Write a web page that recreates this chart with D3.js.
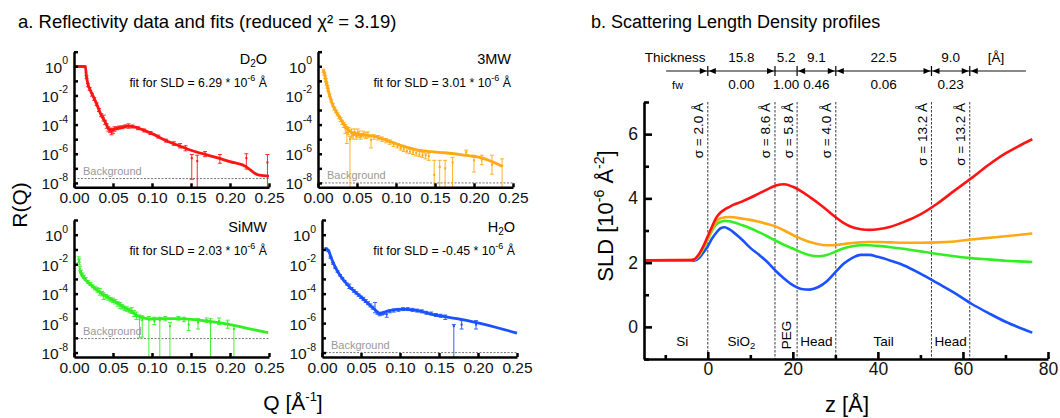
<!DOCTYPE html>
<html><head><meta charset="utf-8">
<script src="https://cdn.jsdelivr.net/npm/d3@7"></script>
<style>
body{margin:0;background:#fff;}
svg{font-family:"Liberation Sans",Arial,sans-serif;}
</style></head><body>
<svg id="c" width="1060" height="418"></svg>
<script>
// ---------------- DATA ----------------
const qTicks = [0, 0.05, 0.10, 0.15, 0.20, 0.25];
const decadeTicks = [-8, -7, -6, -5, -4, -3, -2, -1, 0, 1];
const decadeLabels = [-8, -6, -4, -2, 0];
const colors = ["#ff1414", "#ffaa14", "#33ee22", "#1a52ff"];
const sampleNames = [["D", "2", "O"], ["3MW", "", ""], ["SiMW", "", ""], ["H", "2", "O"]];
const sldFitValues = ["6.29", "3.01", "2.03", "-0.45"];
const backgroundLog = [-7.7, -8.0, -7.05, -8.0];

// fits: [Q, log10 R]
const d2oFit = [[0.002,0],[0.008,0],[0.0145,-0.05],[0.016,-0.7],[0.018,-1.25],[0.021,-1.65],[0.027,-2.33],[0.035,-3.36],[0.040,-3.82],[0.044,-4.25],[0.048,-4.38],[0.054,-4.27],[0.060,-4.2],[0.069,-4.11],[0.077,-4.16],[0.0875,-4.34],[0.10,-4.62],[0.117,-5.07],[0.133,-5.42],[0.15,-5.76],[0.167,-6.03],[0.183,-6.26],[0.2,-6.54],[0.221,-6.9],[0.231,-7.31],[0.2375,-7.47],[0.25,-7.54]];
const mw3Fit = [[0.007,-0.25],[0.008,-0.45],[0.010,-0.92],[0.014,-1.84],[0.018,-2.53],[0.0246,-3.22],[0.031,-3.79],[0.037,-4.25],[0.043,-4.55],[0.050,-4.67],[0.060,-4.71],[0.070,-4.78],[0.083,-4.99],[0.095,-5.22],[0.112,-5.52],[0.129,-5.75],[0.145,-5.86],[0.162,-5.93],[0.187,-6.09],[0.212,-6.32],[0.236,-6.85]];
const simwFit = [[0.008,-2.45],[0.0095,-2.7],[0.013,-2.97],[0.022,-3.42],[0.032,-3.87],[0.0425,-4.21],[0.053,-4.55],[0.063,-4.89],[0.074,-5.23],[0.082,-5.52],[0.088,-5.63],[0.097,-5.72],[0.113,-5.70],[0.134,-5.70],[0.151,-5.74],[0.172,-5.86],[0.197,-6.06],[0.222,-6.35],[0.249,-6.65]];
const h2oFit = [[0.004,-0.92],[0.008,-1.05],[0.012,-1.6],[0.0175,-2.25],[0.026,-2.97],[0.034,-3.47],[0.0425,-3.89],[0.051,-4.27],[0.059,-4.66],[0.0675,-5.07],[0.074,-5.35],[0.078,-5.30],[0.084,-5.19],[0.097,-5.07],[0.109,-5.07],[0.126,-5.19],[0.1425,-5.42],[0.159,-5.58],[0.18,-5.76],[0.2,-5.99],[0.226,-6.33],[0.25,-6.68]];

// data: [Q, log10 R, log10 low, log10 high]
const d2oData = [[0.004,0,-0.04,0.04],[0.006,0,-0.04,0.04],[0.008,0,-0.04,0.04],[0.010,-0.01,-0.05,0.03],[0.012,0,-0.04,0.04],[0.014,-0.02,-0.06,0.02],[0.016,-0.75,-0.85,-0.65],[0.018,-1.3,-1.4,-1.2],[0.020,-1.55,-1.65,-1.45],[0.023,-1.95,-2.05,-1.85],[0.026,-2.25,-2.35,-2.15],[0.029,-2.6,-2.7,-2.5],[0.032,-3.0,-3.1,-2.9],[0.035,-3.35,-3.45,-3.25],[0.038,-3.55,-3.75,-3.35],[0.040,-3.85,-4.0,-3.7],[0.042,-4.1,-4.25,-3.95],[0.044,-4.3,-4.45,-4.15],[0.046,-4.4,-4.55,-4.25],[0.048,-4.5,-4.7,-4.3],[0.050,-4.4,-4.6,-4.25],[0.052,-4.3,-4.45,-4.15],[0.055,-4.25,-4.35,-4.15],[0.058,-4.2,-4.3,-4.1],[0.062,-4.18,-4.28,-4.08],[0.066,-4.12,-4.22,-4.02],[0.070,-4.1,-4.25,-3.95],[0.075,-4.13,-4.23,-4.03],[0.082,-4.25,-4.35,-4.15],[0.090,-4.4,-4.5,-4.3],[0.098,-4.58,-4.68,-4.48],[0.108,-4.82,-4.92,-4.72],[0.118,-5.1,-5.2,-5.0],[0.128,-5.3,-5.42,-5.18],[0.136,-5.45,-5.6,-5.3],[0.143,-5.62,-5.8,-5.45],[0.151,-6.3,-7.75,-6.05],[0.158,-6.5,-9,-6.1],[0.168,-6.0,-6.2,-5.85],[0.187,-6.3,-6.65,-6.05],[0.221,-6.3,-7.05,-6.0],[0.248,-6.6,-9,-6.05]];
const mw3Data = [[0.007,-0.3,-0.4,-0.2],[0.008,-0.5,-0.6,-0.4],[0.009,-0.75,-0.85,-0.65],[0.010,-0.95,-1.05,-0.85],[0.011,-1.2,-1.3,-1.1],[0.012,-1.4,-1.5,-1.3],[0.013,-1.6,-1.7,-1.5],[0.015,-2.0,-2.1,-1.9],[0.017,-2.35,-2.45,-2.25],[0.019,-2.65,-2.75,-2.55],[0.021,-2.9,-3.0,-2.8],[0.023,-3.1,-3.2,-3.0],[0.025,-3.3,-3.4,-3.2],[0.027,-3.5,-3.6,-3.4],[0.029,-3.65,-3.8,-3.5],[0.031,-3.85,-4.0,-3.7],[0.033,-4.0,-4.2,-3.85],[0.035,-4.25,-4.6,-4.0],[0.037,-4.55,-5.3,-4.15],[0.039,-4.4,-4.7,-4.2],[0.041,-5.0,-9,-4.8],[0.043,-4.55,-4.9,-4.3],[0.045,-4.75,-5.0,-4.5],[0.047,-4.5,-4.75,-4.3],[0.049,-4.8,-5.0,-4.55],[0.051,-4.55,-4.85,-4.3],[0.053,-4.65,-4.9,-4.45],[0.055,-4.8,-5.0,-4.6],[0.058,-4.65,-4.85,-4.45],[0.061,-4.75,-4.95,-4.55],[0.064,-4.7,-4.9,-4.5],[0.068,-5.05,-5.6,-4.75],[0.072,-4.85,-5.0,-4.7],[0.077,-4.9,-5.05,-4.75],[0.082,-5.0,-5.15,-4.85],[0.087,-5.1,-5.25,-4.95],[0.092,-5.2,-5.35,-5.05],[0.097,-5.35,-5.5,-5.2],[0.102,-5.45,-5.6,-5.3],[0.106,-5.6,-5.75,-5.45],[0.110,-5.7,-5.85,-5.55],[0.114,-5.8,-5.95,-5.6],[0.118,-5.85,-6.0,-5.7],[0.122,-5.9,-6.05,-5.75],[0.126,-5.95,-6.15,-5.8],[0.130,-6.05,-6.2,-5.85],[0.134,-6.1,-6.25,-5.9],[0.138,-6.1,-6.35,-5.95],[0.142,-6.15,-6.45,-5.95],[0.149,-7.45,-9,-6.45],[0.156,-6.9,-9,-6.45],[0.163,-7.0,-9,-6.45],[0.1725,-6.6,-9,-6.25],[0.190,-5.9,-6.05,-5.75],[0.200,-6.45,-7.25,-6.1],[0.210,-6.4,-6.75,-6.1],[0.223,-6.75,-7.4,-6.1],[0.236,-6.85,-9,-6.35]];
const simwData = [[0.006,-1.7,-1.9,-1.5],[0.007,-1.85,-2.05,-1.65],[0.0075,-2.3,-2.45,-2.15],[0.009,-2.5,-2.6,-2.4],[0.011,-2.7,-2.8,-2.6],[0.013,-2.85,-2.95,-2.75],[0.015,-3.0,-3.1,-2.9],[0.018,-3.2,-3.3,-3.1],[0.021,-3.35,-3.45,-3.25],[0.024,-3.5,-3.6,-3.4],[0.027,-3.62,-3.75,-3.5],[0.030,-3.75,-3.9,-3.6],[0.033,-3.85,-4.1,-3.65],[0.036,-4.0,-4.15,-3.85],[0.038,-4.15,-4.4,-3.95],[0.041,-4.2,-4.35,-4.05],[0.044,-4.3,-4.45,-4.15],[0.047,-4.4,-4.55,-4.25],[0.050,-4.45,-4.6,-4.3],[0.053,-4.55,-4.7,-4.4],[0.056,-4.7,-4.85,-4.55],[0.059,-4.8,-5.0,-4.6],[0.062,-4.9,-5.05,-4.75],[0.065,-5.0,-5.15,-4.85],[0.068,-5.05,-5.2,-4.9],[0.071,-5.15,-5.3,-5.0],[0.074,-5.15,-5.35,-4.95],[0.077,-5.35,-5.55,-5.15],[0.080,-5.5,-5.75,-5.25],[0.084,-5.75,-7.0,-5.45],[0.0875,-5.8,-6.95,-5.5],[0.096,-5.75,-9,-5.55],[0.103,-5.85,-6.1,-5.6],[0.110,-5.8,-9,-5.6],[0.117,-5.7,-5.85,-5.55],[0.123,-6.2,-9,-5.95],[0.134,-5.68,-5.8,-5.55],[0.141,-5.75,-5.9,-5.6],[0.147,-6.1,-6.5,-5.75],[0.159,-5.95,-6.4,-5.7],[0.170,-5.8,-5.95,-5.65],[0.175,-6.0,-9,-5.7],[0.186,-5.85,-6.1,-5.65],[0.197,-6.05,-6.35,-5.8],[0.205,-6.4,-9,-6.15]];
const h2oData = [[0.005,-0.95,-1.0,-0.9],[0.008,-1.1,-1.15,-1.05],[0.011,-1.55,-1.6,-1.5],[0.014,-1.95,-2.0,-1.9],[0.017,-2.25,-2.3,-2.2],[0.020,-2.5,-2.55,-2.45],[0.023,-2.75,-2.8,-2.7],[0.026,-2.95,-3.0,-2.9],[0.029,-3.15,-3.2,-3.1],[0.032,-3.35,-3.42,-3.28],[0.035,-3.5,-3.65,-3.35],[0.038,-3.65,-3.72,-3.58],[0.041,-3.82,-3.9,-3.74],[0.044,-3.95,-4.03,-3.87],[0.047,-4.1,-4.18,-4.02],[0.050,-4.25,-4.33,-4.17],[0.053,-4.35,-4.45,-4.25],[0.056,-4.5,-4.6,-4.4],[0.059,-4.65,-4.75,-4.55],[0.062,-4.8,-4.9,-4.7],[0.065,-4.95,-5.05,-4.85],[0.068,-5.1,-5.3,-4.6],[0.071,-5.3,-5.4,-5.2],[0.074,-5.4,-5.5,-5.3],[0.077,-5.35,-5.45,-5.25],[0.080,-5.3,-5.4,-5.2],[0.083,-5.4,-5.6,-5.2],[0.087,-5.2,-5.3,-5.1],[0.092,-5.15,-5.25,-5.05],[0.098,-5.1,-5.2,-5.0],[0.104,-5.05,-5.15,-4.95],[0.110,-5.05,-5.15,-4.95],[0.116,-5.1,-5.2,-5.0],[0.122,-5.15,-5.25,-5.05],[0.128,-5.2,-5.3,-5.1],[0.134,-5.3,-5.4,-5.2],[0.140,-5.35,-5.45,-5.25],[0.146,-5.45,-5.55,-5.35],[0.152,-5.5,-5.6,-5.4],[0.158,-5.58,-5.75,-5.45],[0.169,-6.2,-9,-6.1],[0.179,-6.1,-6.4,-5.83],[0.1975,-6.1,-6.4,-5.83]];

// SLD profiles
const zValues = [-15,-4,-3,-2,-1,0,1,2,3,4,5,6,8,10,12,14,16,18,20,22,24,26,28,30,32,34,36,38,40,43,46,50,54,58,62,66,70,73,76.3];
const sldRed =    [2.07,2.08,2.12,2.28,2.52,2.82,3.12,3.40,3.56,3.66,3.73,3.80,3.90,4.02,4.15,4.28,4.40,4.44,4.36,4.22,4.04,3.85,3.64,3.42,3.23,3.10,3.04,3.02,3.04,3.12,3.26,3.50,3.84,4.24,4.63,5.04,5.40,5.62,5.84];
const sldOrange = [2.07,2.08,2.11,2.25,2.48,2.76,3.05,3.28,3.38,3.41,3.42,3.41,3.37,3.33,3.27,3.20,3.12,3.00,2.86,2.74,2.64,2.57,2.54,2.55,2.58,2.61,2.63,2.64,2.64,2.63,2.62,2.62,2.63,2.66,2.72,2.77,2.82,2.86,2.91];
const sldGreen =  [2.07,2.07,2.10,2.22,2.45,2.72,3.00,3.19,3.27,3.30,3.29,3.26,3.17,3.07,2.95,2.82,2.68,2.55,2.44,2.32,2.23,2.20,2.24,2.34,2.45,2.51,2.54,2.54,2.52,2.48,2.43,2.35,2.27,2.20,2.14,2.10,2.06,2.04,2.02];
const sldBlue =   [2.07,2.06,2.07,2.15,2.32,2.51,2.75,2.93,3.07,3.10,3.04,2.95,2.72,2.46,2.25,2.02,1.74,1.50,1.30,1.18,1.16,1.24,1.42,1.70,1.97,2.15,2.24,2.24,2.18,2.06,1.92,1.66,1.36,1.06,0.72,0.43,0.16,-0.01,-0.18];
const zTicks = [-10,0,10,20,30,40,50,60,70,80];
const sldTicks = [-1,0,1,2,3,4,5,6,7];
const interfaces = [0, 15.8, 21.0, 30.1, 52.6, 61.6];
const thicknessLabels = ["15.8","5.2","9.1","22.5","9.0"];
const fwLabels = ["0.00","1.00","0.46","0.06","0.23"];
const sigmaLabels = ["2.0","8.6","5.8","4.0","13.2","13.2"];
const layerNames = ["Si","SiO","PEG","Head","Tail","Head"];

// ---------------- DRAW ----------------
const svg = d3.select("#c");

svg.append("text").attr("x", 18).attr("y", 28).attr("font-size", 18.5)
  .text("a. Reflectivity data and fits (reduced \u03C7\u00B2 = 3.19)");
svg.append("text").attr("x", 591).attr("y", 28).attr("font-size", 18)
  .text("b. Scattering Length Density profiles");

const layout = [
  {left: 74, top: 51.7, bottom: 187.3},
  {left: 318, top: 51.7, bottom: 187.3},
  {left: 74, top: 220, bottom: 357},
  {left: 322, top: 220, bottom: 357}
];
const fits = [d2oFit, mw3Fit, simwFit, h2oFit];
const datas = [d2oData, mw3Data, simwData, h2oData];

layout.forEach((L, i) => {
  const x = d3.scaleLinear().domain([0, 0.25]).range([L.left, L.left + 195]);
  const y = d3.scaleLinear().domain([-8.3, 1]).range([L.bottom, L.top]);
  const col = colors[i];
  const g = svg.append("g");
  const ymin = -8.3;

  // background
  g.append("line").attr("x1", x(0)).attr("x2", x(0.25))
    .attr("y1", y(backgroundLog[i])).attr("y2", y(backgroundLog[i]))
    .attr("stroke", "#666").attr("stroke-width", 0.9).attr("stroke-dasharray", "2,1.5");
  g.append("text").attr("x", x(0) + 9).attr("y", y(backgroundLog[i]) - 4)
    .attr("font-size", 11).attr("fill", "#999").text("Background");

  // error bars + points
  const eb = g.append("g").attr("stroke", col).attr("stroke-width", 1).attr("opacity", 0.9);
  datas[i].forEach(d => {
    const lo = Math.max(d[2], ymin);
    eb.append("line").attr("x1", x(d[0])).attr("x2", x(d[0])).attr("y1", y(lo)).attr("y2", y(d[3]));
    eb.append("line").attr("x1", x(d[0]) - 2).attr("x2", x(d[0]) + 2).attr("y1", y(d[3])).attr("y2", y(d[3]));
    if (d[2] > ymin) eb.append("line").attr("x1", x(d[0]) - 2).attr("x2", x(d[0]) + 2).attr("y1", y(lo)).attr("y2", y(lo));
    g.append("rect").attr("x", x(d[0]) - 1).attr("y", y(d[1]) - 1).attr("width", 2).attr("height", 2).attr("fill", col);
  });

  // fit
  g.append("path").datum(fits[i])
    .attr("d", d3.line().x(d => x(d[0])).y(d => y(d[1])).curve(d3.curveMonotoneX))
    .attr("fill", "none").attr("stroke", col).attr("stroke-width", 2.8).attr("stroke-linejoin", "round");

  // axes
  const ax = g.append("g").attr("transform", `translate(${L.left},0)`)
    .call(d3.axisLeft(y).tickValues(decadeTicks).tickSize(-4).tickSizeOuter(0).tickFormat(""));
  ax.selectAll("path,line").attr("stroke", "#000").attr("stroke-width", 2.5);
  const bx = g.append("g").attr("transform", `translate(0,${L.bottom})`)
    .call(d3.axisBottom(x).tickValues(qTicks).tickSize(-4).tickSizeOuter(0).tickFormat(d3.format(".2f")).tickPadding(5));
  bx.selectAll("path,line").attr("stroke", "#000").attr("stroke-width", 2.5);
  bx.attr("font-size", 15.5).attr("font-family", null);
  bx.selectAll("text").attr("fill", "#111");

  decadeLabels.forEach(n => {
    const t = g.append("text").attr("x", L.left - 6).attr("y", y(n) + 6.5)
      .attr("text-anchor", "end").attr("font-size", 15.5).attr("fill", "#111");
    t.append("tspan").text("10");
    t.append("tspan").attr("font-size", 10.5).attr("dy", -8.5).text(String(n));
  });

  // name and fit text
  const nm = sampleNames[i];
  const tn = g.append("text").attr("x", L.left + 193).attr("y", L.top + 12).attr("text-anchor", "end").attr("font-size", 14.5);
  tn.append("tspan").text(nm[0]);
  if (nm[1]) { tn.append("tspan").attr("font-size", 10).attr("dy", 3).text(nm[1]); tn.append("tspan").attr("dy", -3).text(nm[2]); }
  const tf = g.append("text").attr("x", L.left + 193).attr("y", L.top + 35).attr("text-anchor", "end").attr("font-size", 12.3);
  tf.append("tspan").text("fit for SLD = " + sldFitValues[i] + " * 10");
  tf.append("tspan").attr("font-size", 9).attr("dy", -6).text("-6");
  tf.append("tspan").attr("dy", 6).text(" \u00C5");
});

// axis titles panel a
svg.append("text").attr("transform", "translate(27,205) rotate(-90)").attr("text-anchor", "middle")
  .attr("font-size", 21).text("R(Q)");
const ql = svg.append("text").attr("x", 293).attr("y", 410).attr("text-anchor", "middle").attr("font-size", 21);
ql.append("tspan").text("Q [\u00C5");
ql.append("tspan").attr("font-size", 13).attr("dy", -9).text("-1");
ql.append("tspan").attr("dy", 9).text("]");

// ---------------- Panel b ----------------
const xz = d3.scaleLinear().domain([-15, 80]).range([644, 1048]);
const ys = d3.scaleLinear().domain([-1, 7]).range([359, 102]);
const gb = svg.append("g");

// dashed interfaces
interfaces.forEach((z, k) => {
  gb.append("line").attr("x1", xz(z)).attr("x2", xz(z)).attr("y1", 102).attr("y2", ys(-1))
    .attr("stroke", "#222").attr("stroke-width", 0.9).attr("stroke-dasharray", "2.5,1.5");
  gb.append("text").attr("transform", `translate(${xz(z) - 4.5},103) rotate(-90)`)
    .attr("text-anchor", "end").attr("font-size", 13.5).text("\u03C3 = " + sigmaLabels[k] + " \u00C5");
});

// profiles
const profiles = [sldBlue, sldGreen, sldOrange, sldRed];
const pcolors = [colors[3], colors[2], colors[1], colors[0]];
profiles.forEach((vals, k) => {
  gb.append("path").datum(zValues.map((z, j) => [z, vals[j]]))
    .attr("d", d3.line().x(d => xz(d[0])).y(d => ys(d[1])).curve(d3.curveMonotoneX))
    .attr("fill", "none").attr("stroke", pcolors[k]).attr("stroke-width", 2.6).attr("stroke-linejoin", "round");
});

// axes
const lax = gb.append("g").attr("transform", `translate(${xz(-15)},0)`)
  .call(d3.axisLeft(ys).tickValues(sldTicks).tickSize(-5).tickSizeOuter(0).tickPadding(6)
    .tickFormat(d => (d >= 0 && d % 2 === 0) ? d : ""));
lax.selectAll("path,line").attr("stroke", "#000").attr("stroke-width", 2.6);
lax.selectAll(".tick").filter(d => d >= 0 && d % 2 === 0).select("line").attr("x2", 8);
lax.attr("font-size", 17.5).attr("font-family", null);
lax.selectAll("text").attr("fill", "#111");

const bax = gb.append("g").attr("transform", `translate(0,${ys(-1)})`)
  .call(d3.axisBottom(xz).tickValues(zTicks).tickSize(-4).tickSizeOuter(0).tickPadding(4)
    .tickFormat(d => d % 20 === 0 ? d : ""));
bax.selectAll("path,line").attr("stroke", "#000").attr("stroke-width", 2.6);
bax.selectAll(".tick").filter(d => d % 20 === 0).select("line").attr("y2", -7);
bax.attr("font-size", 17.5).attr("font-family", null);
bax.selectAll("text").attr("fill", "#111");

// axis titles b
const sl = svg.append("text").attr("transform", "translate(613,216) rotate(-90)").attr("text-anchor", "middle").attr("font-size", 22);
sl.append("tspan").text("SLD [10");
sl.append("tspan").attr("font-size", 14).attr("dy", -9).text("-6");
sl.append("tspan").attr("dy", 9).text(" \u00C5");
sl.append("tspan").attr("font-size", 14).attr("dy", -9).text("-2");
sl.append("tspan").attr("dy", 9).text("]");
svg.append("text").attr("x", 847).attr("y", 412).attr("text-anchor", "middle").attr("font-size", 22).text("z [\u00C5]");

// layer names
const layerBounds = [-12].concat(interfaces);
layerNames.forEach((nm, k) => {
  const zc = (layerBounds[k] + layerBounds[k + 1]) / 2;
  if (nm === "PEG") {
    gb.append("text").attr("transform", `translate(${xz(zc) + 5},335) rotate(-90)`).attr("text-anchor", "middle").attr("font-size", 13.5).text(nm);
  } else {
    const t = gb.append("text").attr("x", xz(zc)).attr("y", 346).attr("text-anchor", "middle").attr("font-size", 13.5);
    t.append("tspan").text(nm);
    if (nm === "SiO") t.append("tspan").attr("font-size", 9.5).attr("dy", 3).text("2");
  }
});

// thickness header
const hy = 71;
gb.append("line").attr("x1", xz(-9.8)).attr("x2", xz(74.8)).attr("y1", hy).attr("y2", hy).attr("stroke", "#888").attr("stroke-width", 1.8);
gb.append("text").attr("x", xz(-7.7)).attr("y", 62).attr("text-anchor", "middle").attr("font-size", 13.5).text("Thickness");
gb.append("text").attr("x", xz(-7.1)).attr("y", 89).attr("text-anchor", "middle").attr("font-size", 11).text("fw");
gb.append("text").attr("x", xz(67.8)).attr("y", 62).attr("text-anchor", "middle").attr("font-size", 13.5).text("[\u00C5]");
thicknessLabels.forEach((t, k) => {
  const zc = (interfaces[k] + interfaces[k + 1]) / 2;
  gb.append("text").attr("x", xz(zc)).attr("y", 62).attr("text-anchor", "middle").attr("font-size", 13.5).text(t);
  gb.append("text").attr("x", xz(zc)).attr("y", 89).attr("text-anchor", "middle").attr("font-size", 13.5).text(fwLabels[k]);
});
interfaces.forEach((z, k) => {
  const px = xz(z);
  gb.append("line").attr("x1", px).attr("x2", px).attr("y1", hy - 5).attr("y2", hy + 5).attr("stroke", "#000").attr("stroke-width", 1.2);
  if (k !== 2) gb.append("path").attr("d", `M${px - 1},${hy} L${px - 8},${hy - 3} L${px - 8},${hy + 3} Z`).attr("fill", "#000");
  if (k !== 1) gb.append("path").attr("d", `M${px + 1},${hy} L${px + 8},${hy - 3} L${px + 8},${hy + 3} Z`).attr("fill", "#000");
});
</script></body></html>
